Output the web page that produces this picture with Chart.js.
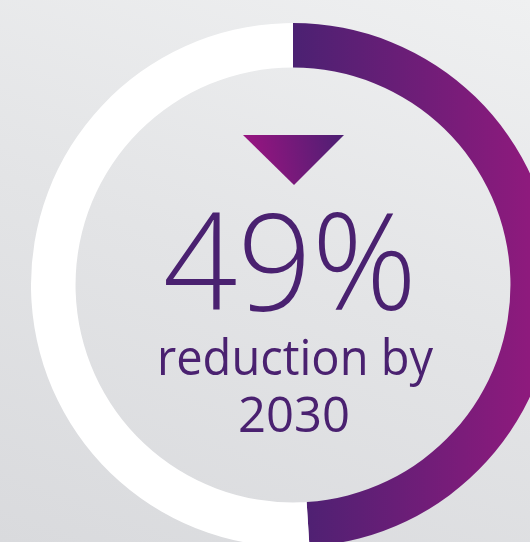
<!DOCTYPE html>
<html>
<head>
<meta charset="utf-8">
<script src="https://cdn.jsdelivr.net/npm/chart.js@4"></script>
<style>
  html, body { margin: 0; padding: 0; width: 530px; height: 542px; overflow: hidden; }
  body { background: linear-gradient(200deg, #eff0f1 0%, #e3e4e6 50%, #d9dadd 100%); position: relative; }
  #ring { position: absolute; left: 31px; top: 23px; }
</style>
</head>
<body>
<canvas id="ring" width="524" height="524"></canvas>
<script>
const labels = ['Reduction', 'Remaining'];
const values = [49, 51];
const headline = '49%';
const subline1 = 'reduction by';
const subline2 = '2030';

const textColor = '#4a2170';

const centerText = {
  id: 'centerText',
  afterDraw(chart) {
    const c = chart.ctx;
    const arc = chart.getDatasetMeta(0).data[0];
    const cx = arc.x, cy = arc.y;
    c.save();

    // down arrow
    const g = c.createLinearGradient(cx - 50, cy - 130, cx + 50, cy - 150);
    g.addColorStop(0, '#9b1481');
    g.addColorStop(1, '#4d1f73');
    c.fillStyle = g;
    c.beginPath();
    c.moveTo(cx - 50, cy - 150);
    c.lineTo(cx + 51, cy - 150);
    c.lineTo(cx + 1, cy - 100);
    c.closePath();
    c.fill();

    c.fillStyle = textColor;
    c.textAlign = 'center';
    c.textBaseline = 'alphabetic';
    c.font = '300 134px "Open Sans"';
    c.fillText(headline, cx - 3, cy + 25, 254);
    c.font = '400 50px "Open Sans"';
    c.fillText(subline1, cx + 2, cy + 90, 276);
    c.fillText(subline2, cx + 1, cy + 147, 112);
    c.restore();
  }
};

const ctxRing = document.getElementById('ring');

const dataRing = {
  labels: labels,
  datasets: [{
    data: values,
    backgroundColor: function(context) {
      const chart = context.chart;
      const area = chart.chartArea;
      if (!area) return '#ffffff';
      if (context.dataIndex === 0) {
        const g = chart.ctx.createLinearGradient(area.left + area.width / 2, 0, area.right - 25, 0);
        g.addColorStop(0, '#4b2172');
        g.addColorStop(1, '#8e1a7d');
        return g;
      }
      return '#ffffff';
    },
    borderWidth: 0
  }]
};

const ring = new Chart(ctxRing, {
  type: 'doughnut',
  data: dataRing,
  options: {
    responsive: false,
    animation: false,
    cutout: '83%',
    plugins: {
      legend: { display: false },
      tooltip: { enabled: false }
    }
  },
  plugins: [centerText]
});
</script>
</body>
</html>
